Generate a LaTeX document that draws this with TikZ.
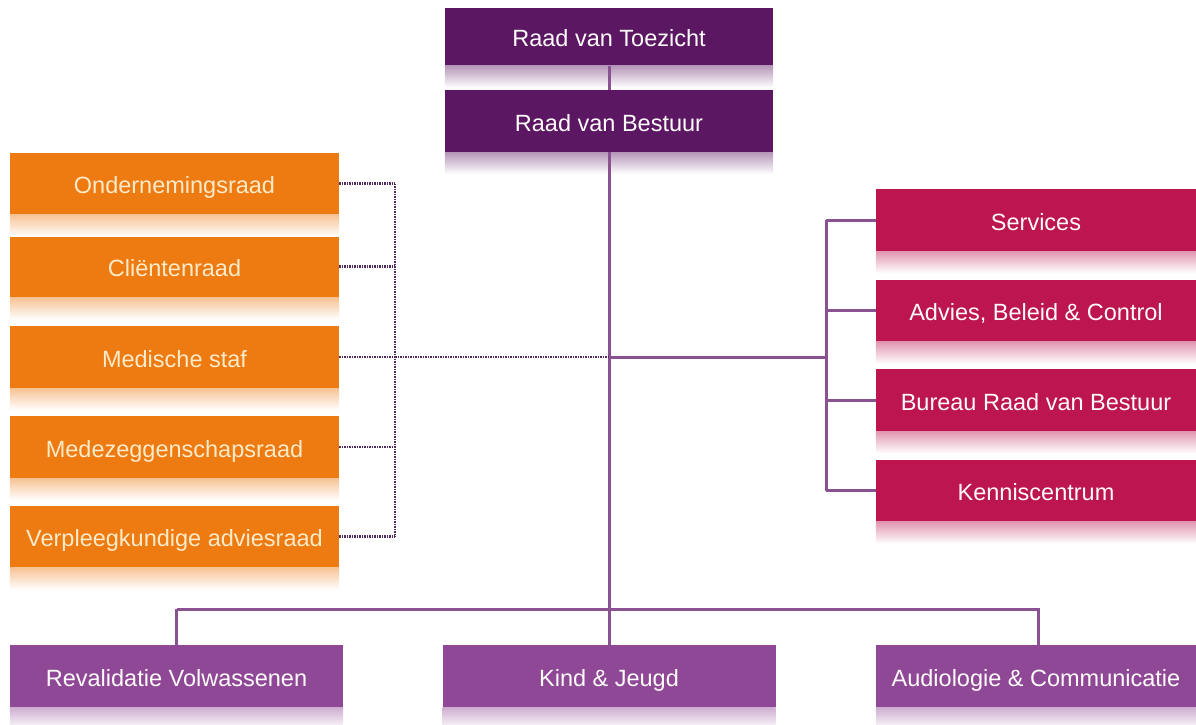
\documentclass[tikz,border=0pt]{standalone}
\usepackage{fontspec}
\setmainfont{Liberation Sans}
\definecolor{toppurple}{HTML}{5C1763}
\definecolor{raadorange}{HTML}{EE7A12}
\definecolor{staffred}{HTML}{BC1550}
\definecolor{unitpurple}{HTML}{8F4896}
\definecolor{linepurple}{HTML}{8A5290}
\definecolor{dotpurple}{HTML}{4E2C63}
\definecolor{raadtext}{HTML}{FCEBC9}

\begin{document}
\begin{tikzpicture}[x=1pt,y=-1pt,
  box/.style={rectangle,inner sep=0pt,minimum height=62pt,
    text height=22pt,text depth=2pt,
    font=\fontsize{23.5}{28}\selectfont},
  topbox/.style={box,fill=toppurple,text=white!96!pink,minimum width=328pt},
  raadbox/.style={box,fill=raadorange,text=raadtext,minimum width=329pt},
  staffbox/.style={box,fill=staffred,text=white!92!pink,minimum width=320pt},
  unitbox/.style={box,fill=unitpurple,text=white!95!pink,minimum width=333pt},
  orgline/.style={draw=linepurple,line width=3pt},
  dotline/.style={draw=dotpurple,line width=2.6pt,dash pattern=on 1.5pt off 1pt}]
\useasboundingbox (0,0) rectangle (1196,725);

\node[topbox,minimum height=57pt] (toez) at (609,37) {Raad van Toezicht};
\node[topbox] (bestuur) at (609,121) {Raad van Bestuur};

\node[raadbox] (onder) at (174.5,183.5) {Ondernemingsraad};
\node[raadbox] (client) at (174.5,266.5) {Cliëntenraad};
\node[raadbox] (medisch) at (174.5,357) {Medische staf};
\node[raadbox] (medez) at (174.5,447) {Medezeggenschapsraad};
\node[raadbox] (verpl) at (174.5,536.5) {Verpleegkundige adviesraad};

\node[staffbox] (services) at (1036,220) {Services};
\node[staffbox] (advies) at (1036,310.5) {Advies, Beleid \& Control};
\node[staffbox] (bureau) at (1036,400) {Bureau Raad van Bestuur};
\node[staffbox] (kennis) at (1036,490.5) {Kenniscentrum};

\node[unitbox] (reval) at (176.5,676) {Revalidatie Volwassenen};
\node[unitbox] (kind) at (609,676) {Kind \& Jeugd};
\node[unitbox,minimum width=320pt] (audio) at (1036,676) {Audiologie \& Communicatie};

% reflections under the boxes
\foreach \n/\c in {toez/toppurple,bestuur/toppurple,onder/raadorange,client/raadorange,
    medisch/raadorange,medez/raadorange,verpl/raadorange,services/staffred,
    advies/staffred,bureau/staffred,kennis/staffred,reval/unitpurple,kind/unitpurple,
    audio/unitpurple}
  \shade[top color=\c!45,bottom color=white] (\n.south west) rectangle ([yshift=-22pt]\n.south east);

\coordinate (lbus) at (395,357);
\coordinate (rbus) at (826,357);
\coordinate (bbus) at (609,609);

\draw[orgline] (toez.south) -- (bestuur.north);
\draw[orgline] (bestuur.south) -- (kind.north);
\draw[orgline] (bestuur.south |- rbus) -- (rbus);
\draw[orgline] (services.west -| rbus) -- (kennis.west -| rbus);
\foreach \n in {services,advies,bureau,kennis}
  \draw[orgline] (\n.west -| rbus) -- (\n.west);
\draw[orgline] (reval.north |- bbus) -- (reval.north);
\draw[orgline] (reval.north |- bbus) -- ([xshift=2pt]audio.north |- bbus) -- ([xshift=2pt]audio.north);

\draw[dotline] (onder.east -| lbus) -- (verpl.east -| lbus);
\foreach \n in {onder,client,medisch,medez,verpl}
  \draw[dotline] (\n.east) -- (\n.east -| lbus);
\draw[dotline] (lbus) -- (bestuur.south |- lbus);
\end{tikzpicture}
\end{document}
